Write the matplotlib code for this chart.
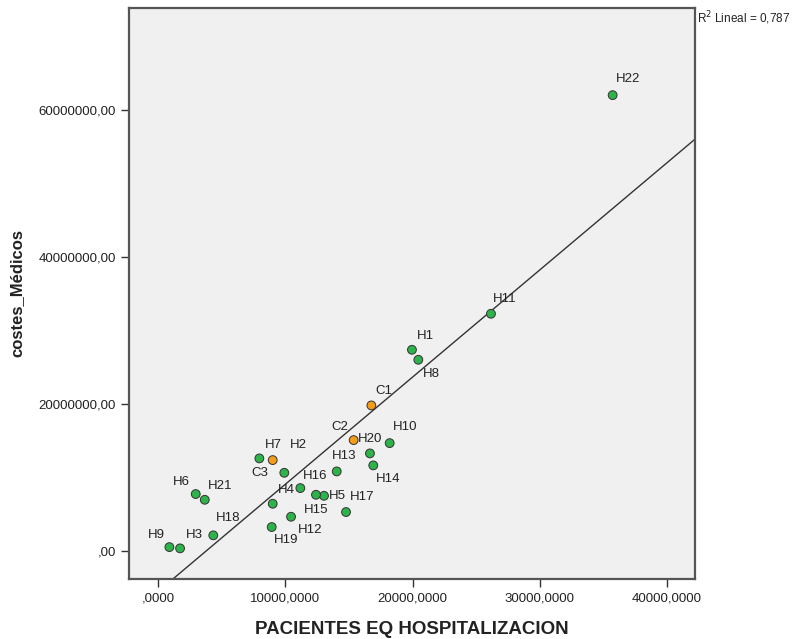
import numpy as np
import matplotlib
matplotlib.use('Agg')
import matplotlib.pyplot as plt
from matplotlib.ticker import FuncFormatter

plt.rcParams['font.family'] = ['Liberation Sans', 'DejaVu Sans']

# Data
labels = ['H1', 'H2', 'H3', 'H4', 'H5', 'H6', 'H7', 'H8', 'H9', 'H10', 'H11',
          'H12', 'H13', 'H14', 'H15', 'H16', 'H17', 'H18', 'H19', 'H20', 'H21',
          'H22', 'C1', 'C2', 'C3']
pacientes = [19950, 9920, 1730, 9010, 13040, 2960, 7960, 20450, 890, 18200, 26160,
             10450, 14040, 16910, 12410, 11180, 14770, 4340, 8930, 16650, 3670,
             35720, 16760, 15370, 9010]
costes = [27390000, 10650000, 370000, 6440000, 7520000, 7760000, 12610000,
          26030000, 540000, 14690000, 32290000, 4670000, 10840000, 11660000,
          7660000, 8570000, 5310000, 2140000, 3270000, 13290000, 6980000,
          62040000, 19820000, 15100000, 12380000]

# label offsets in pixels (dx, dy)
label_offsets = {
    'H1': (13, 14), 'H2': (14, 28), 'H3': (14, 13), 'H4': (14, 14), 'H5': (13, 0),
    'H6': (-14, 12), 'H7': (14, 13), 'H8': (13, -14), 'H9': (-13, 12),
    'H10': (15, 16), 'H11': (14, 15), 'H12': (19, -13), 'H13': (7, 15),
    'H14': (15, -14), 'H15': (0, -15), 'H16': (15, 12), 'H17': (16, 15),
    'H18': (15, 17), 'H19': (14, -13), 'H20': (0, 14), 'H21': (15, 14),
    'H22': (15, 16), 'C1': (13, 14), 'C2': (-14, 13), 'C3': (-13, -13),
}

x = np.array(pacientes, dtype=float)
y = np.array(costes, dtype=float)

fig = plt.figure(figsize=(8.07, 6.39), dpi=100)
ax = fig.add_axes([0.1599, 0.0939, 0.7013, 0.8936])
ax.set_facecolor('#f0f0f0')

# fit line
slope, intercept = np.polyfit(x, y, 1)
xl = np.array([-3000, 43000])
ax.plot(xl, slope * xl + intercept, color='#333333', linewidth=1.0, zorder=2)

colors = ['#f39c1a' if lab.startswith('C') else '#2eb24a' for lab in labels]
ax.scatter(x, y, s=40, c=colors, edgecolors='#333333', linewidths=0.7, zorder=3)

for lab, xi, yi in zip(labels, x, y):
    dx, dy = label_offsets[lab]
    ax.annotate(lab, (xi, yi), xytext=(dx, dy), textcoords='offset pixels',
                ha='center', va='center', fontsize=9.5, color='#222222', zorder=4)

ax.set_xlim(-2280, 42190)
ax.set_ylim(-3800000, 73900000)
ax.set_xticks([0, 10000, 20000, 30000, 40000])
ax.set_yticks([0, 20000000, 40000000, 60000000])


def fmt(decimals):
    def f(v, pos):
        s = f'{v:.{decimals}f}'.replace('.', ',')
        if s.startswith('0,'):
            s = s[1:]
        return s
    return FuncFormatter(f)


ax.xaxis.set_major_formatter(fmt(4))
ax.yaxis.set_major_formatter(fmt(2))
ax.tick_params(direction='out', length=6, width=1.0, color='#333333',
               labelsize=9.5, labelcolor='#222222', top=False, right=False)
for sp in ax.spines.values():
    sp.set_color('#555555')
    sp.set_linewidth(1.6)

ax.set_xlabel('PACIENTES EQ HOSPITALIZACION', fontsize=13.5, fontweight='bold',
              color='#222222', labelpad=12)
ax.set_ylabel('costes_Médicos', fontsize=12, fontweight='bold', color='#222222',
              labelpad=10)

fig.text(697 / 807, 1 - 18 / 639, 'R$^2$ Lineal = 0,787', fontsize=8.5,
         ha='left', va='center', color='#222222')

fig.savefig('out.png', dpi=100, facecolor='white')
